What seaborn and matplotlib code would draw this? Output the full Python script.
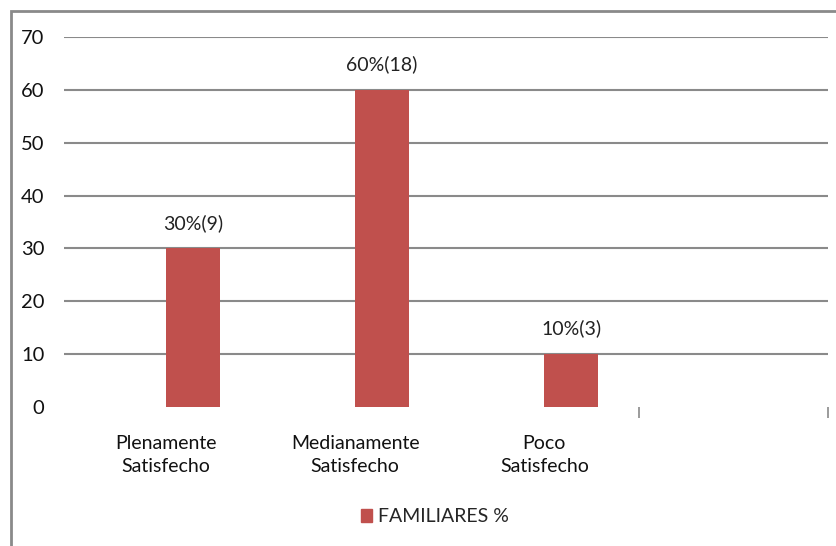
import matplotlib
matplotlib.use("Agg")
import matplotlib.pyplot as plt
import matplotlib.patches as mpatches
from matplotlib.ticker import FixedLocator
import pandas as pd
import seaborn as sb

categorias = ["Plenamente\nSatisfecho", "Medianamente\nSatisfecho", "Poco\nSatisfecho", " "]
valores = [30, 60, 10]
etiquetas = ["30%(9)", "60%(18)", "10%(3)"]
serie = "FAMILIARES %"

# an empty first series keeps the bars shifted right, as in the original
df = pd.DataFrame({"cat": categorias[:3] * 2,
                   "val": [0, 0, 0] + valores,
                   "serie": ["_vacio"] * 3 + [serie] * 3})

sb.set_theme(style="white")
plt.rcParams['font.family'] = ['Lato', 'DejaVu Sans']

fig = plt.figure(figsize=(8.37, 5.46), dpi=100)
ax = fig.add_axes([64/837, 1-407/546, (828-64)/837, (407-37)/546])

sb.barplot(data=df, x="cat", y="val", hue="serie", order=categorias,
           hue_order=["_vacio", serie], palette={"_vacio": "white", serie: "#C0504D"},
           width=0.57, ax=ax, legend=False, saturation=1, linewidth=0)

ax.bar_label(ax.containers[-1], labels=etiquetas, padding=12, fontsize=14, color="#222222")

ax.set_ylim(0, 70)
ax.set_yticks(range(0, 71, 10))
ax.set_xlim(-0.54, 3.5)
ax.yaxis.grid(True, color="#8a8a8a", linewidth=1.5)
ax.get_ygridlines()[0].set_visible(False)
ax.set_axisbelow(True)
for s in ax.spines.values():
    s.set_visible(False)
ax.set_xlabel("")
ax.set_ylabel("")
ax.tick_params(axis="y", labelsize=14.5, pad=14, length=0, labelcolor="#111111")
ax.tick_params(axis="x", which="major", labelsize=14, pad=20, length=0, labelcolor="#111111")
for lab in ax.get_xticklabels():
    lab.set_linespacing(1.45)
ax.xaxis.set_minor_locator(FixedLocator([2.5, 3.5]))
ax.tick_params(axis="x", which="minor", bottom=True, length=8, width=1.2,
               color="#8a8a8a", direction="out")

handle = mpatches.Patch(color="#C0504D", label=serie)
fig.legend(handles=[handle], loc="center", bbox_to_anchor=(435/837, 1-517/546),
           frameon=False, fontsize=14, handlelength=0.6, handleheight=0.6, handletextpad=0.3)

frame = mpatches.Rectangle((11/837, -0.1), 1.2, 1-11/546+0.1, transform=fig.transFigure,
                           fill=False, edgecolor="#8a8a8a", linewidth=2)
fig.patches.append(frame)

fig.savefig("out.png", dpi=100)
